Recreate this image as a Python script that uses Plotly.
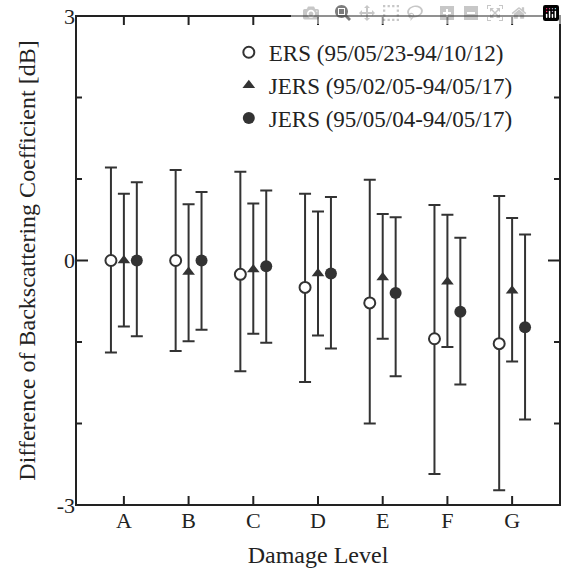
import plotly.graph_objects as go

categories = ["A", "B", "C", "D", "E", "F", "G"]

# ERS (95/05/23-94/10/12)
ers_mean  = [0.00, 0.00, -0.17, -0.33, -0.52, -0.96, -1.02]
ers_upper = [1.14, 1.11, 1.09, 0.82, 0.99, 0.68, 0.79]
ers_lower = [-1.13, -1.11, -1.36, -1.49, -2.00, -2.62, -2.82]

# JERS (95/02/05-94/05/17)
j1_mean  = [0.00, -0.14, -0.11, -0.16, -0.21, -0.26, -0.37]
j1_upper = [0.82, 0.69, 0.70, 0.60, 0.57, 0.56, 0.52]
j1_lower = [-0.81, -0.99, -0.90, -0.92, -0.96, -1.06, -1.24]

# JERS (95/05/04-94/05/17)
j2_mean  = [0.00, 0.00, -0.07, -0.16, -0.40, -0.63, -0.82]
j2_upper = [0.96, 0.84, 0.86, 0.78, 0.53, 0.28, 0.32]
j2_lower = [-0.93, -0.85, -1.01, -1.08, -1.42, -1.52, -1.95]

y_major = [-3, 0, 3]
y_minor = [-2, -1, 1, 2]

series_names = ["ERS (95/05/23-94/10/12)",
                "JERS (95/02/05-94/05/17)",
                "JERS (95/05/04-94/05/17)"]

INK = "#333333"
AX = "#222222"
FONT = "Liberation Serif"

W, H = 565, 574
PAD = 3                                   # extra px around the frame
M_L, M_R, M_T, M_B = 76 - PAD, 5 - PAD, 16 - PAD, 69 - PAD
FRAME_X = [-0.74, len(categories) - 1 + 0.74]
FRAME_Y = [-3, 3]
PX_X = (W - 76 - 5) / (FRAME_X[1] - FRAME_X[0])   # px per x unit
PX_Y = (H - 16 - 69) / (FRAME_Y[1] - FRAME_Y[0])  # px per y unit
X_RANGE = [FRAME_X[0] - PAD / PX_X, FRAME_X[1] + PAD / PX_X]
Y_RANGE = [FRAME_Y[0] - PAD / PX_Y, FRAME_Y[1] + PAD / PX_Y]

x0, x1 = FRAME_X
y0, y1 = FRAME_Y
xmid, ymid = (x0 + x1) / 2, (y0 + y1) / 2
HIDDEN = dict(size=1, color="rgba(0,0,0,0)")
n = len(categories)

fig = go.Figure()

# plot frame, drawn as error bars of hidden helper points
fig.add_trace(go.Scatter(
    x=[x0, x1], y=[ymid, ymid], mode="markers", marker=HIDDEN,
    error_y=dict(type="constant", value=(y1 - y0) / 2, color=AX, thickness=2, width=0),
    showlegend=False, hoverinfo="skip", cliponaxis=False))
fig.add_trace(go.Scatter(
    x=[xmid, xmid], y=[y0, y1], mode="markers", marker=HIDDEN,
    error_x=dict(type="constant", value=(x1 - x0) / 2 + 1 / PX_X, color=AX,
                 thickness=2, width=0),
    showlegend=False, hoverinfo="skip", cliponaxis=False))

# inside ticks on the x axis (bottom and top)
xt_len = 9 / PX_Y
fig.add_trace(go.Scatter(
    x=list(range(n)), y=[y0] * n, mode="markers", marker=HIDDEN,
    error_y=dict(type="data", symmetric=False, array=[xt_len] * n,
                 arrayminus=[0] * n, color=AX, thickness=2, width=0),
    showlegend=False, hoverinfo="skip", cliponaxis=False))
fig.add_trace(go.Scatter(
    x=list(range(n)), y=[y1] * n, mode="markers", marker=HIDDEN,
    error_y=dict(type="data", symmetric=False, array=[0] * n,
                 arrayminus=[xt_len] * n, color=AX, thickness=2, width=0),
    showlegend=False, hoverinfo="skip", cliponaxis=False))

# inside ticks on the y axis (left and right), longer at labelled values
yt_vals = y_major + y_minor
yt_lens = [12 / PX_X] * len(y_major) + [6 / PX_X] * len(y_minor)
m = len(yt_vals)
fig.add_trace(go.Scatter(
    x=[x0] * m, y=yt_vals, mode="markers", marker=HIDDEN,
    error_x=dict(type="data", symmetric=False, array=yt_lens,
                 arrayminus=[0] * m, color=AX, thickness=2, width=0),
    showlegend=False, hoverinfo="skip", cliponaxis=False))
fig.add_trace(go.Scatter(
    x=[x1] * m, y=yt_vals, mode="markers", marker=HIDDEN,
    error_x=dict(type="data", symmetric=False, array=[0] * m,
                 arrayminus=yt_lens, color=AX, thickness=2, width=0),
    showlegend=False, hoverinfo="skip", cliponaxis=False))

offsets = [-0.2, 0.0, 0.2]
markers = [
    dict(symbol="circle", size=11, color="white", line=dict(color=INK, width=2)),
    dict(symbol="triangle-up", size=11, color=INK, line=dict(color=INK, width=0)),
    dict(symbol="circle", size=12, color=INK, line=dict(color=INK, width=0)),
]
data = [(ers_mean, ers_upper, ers_lower),
        (j1_mean, j1_upper, j1_lower),
        (j2_mean, j2_upper, j2_lower)]

for name, off, mk, (mv, up, lo) in zip(series_names, offsets, markers, data):
    xs = [i + off for i in range(n)]
    fig.add_trace(go.Scatter(
        x=xs, y=mv, mode="markers", name=name, marker=mk,
        error_y=dict(type="data", symmetric=False,
                     array=[u - v for u, v in zip(up, mv)],
                     arrayminus=[v - l for v, l in zip(mv, lo)],
                     color=INK, thickness=2, width=6),
    ))

fig.update_layout(
    width=W, height=H,
    margin=dict(l=M_L, r=M_R, t=M_T, b=M_B, pad=0),
    paper_bgcolor="white", plot_bgcolor="white",
    font=dict(family=FONT, color=AX, size=22),
    showlegend=True,
    legend=dict(x=0.318, y=0.964, xanchor="left", yanchor="top",
                font=dict(family=FONT, size=23, color=AX),
                bgcolor="rgba(0,0,0,0)", borderwidth=0, tracegroupgap=0),
    xaxis=dict(
        range=X_RANGE,
        tickmode="array",
        tickvals=list(range(n)), ticktext=categories,
        ticks="", showline=False,
        showgrid=False, zeroline=False,
        tickfont=dict(size=22), ticklabelstandoff=-3,
        title=dict(text="Damage Level", font=dict(size=24), standoff=14),
    ),
    yaxis=dict(
        range=Y_RANGE, tickmode="array",
        tickvals=y_major, ticktext=[str(v) for v in y_major],
        ticks="", showline=False,
        showgrid=False, zeroline=False,
        tickfont=dict(size=22), ticklabelstandoff=-3,
        title=dict(text="Difference of Backscattering Coefficient [dB]",
                   font=dict(size=24), standoff=14),
    ),
)

fig.write_html("out.html",
               post_script="document.body.style.margin='0';"
                           "document.body.style.overflow='hidden';")
